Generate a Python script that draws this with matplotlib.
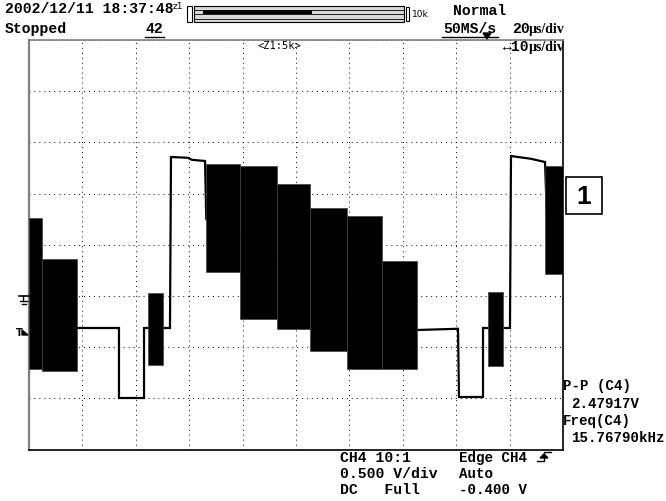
import matplotlib
matplotlib.use('Agg')
import matplotlib.pyplot as plt
from matplotlib.patches import Rectangle, Polygon

# ---- data (screen divisions: x 0..10, y -4..4) ----
trace_x = [0.50, 0.899, 1.685, 1.685, 2.154, 2.154, 2.640, 2.659, 2.97, 3.05, 3.296,
           3.32, 7.27, 8.034, 8.052, 8.502, 8.502, 9.007, 9.026, 9.40, 9.663, 9.70, 10.0]
trace_y = [-1.625, -1.625, -1.625, -2.992, -2.992, -1.625, -1.625, 1.715, 1.70, 1.66, 1.637,
           0.5, -1.664, -1.64, -2.973, -2.973, -1.625, -1.625, 1.734, 1.68, 1.617, 0.5, 0.5]

burst_x0 = [0.000, 0.243, 2.228, 3.315, 3.951, 4.644, 5.262, 5.955, 6.610, 8.596, 9.663]
burst_x1 = [0.243, 0.899, 2.509, 3.951, 4.644, 5.262, 5.955, 6.610, 7.266, 8.876, 10.0]
burst_top = [0.523, -0.277, -0.941, 1.578, 1.539, 1.188, 0.719, 0.563, -0.316, -0.922, 1.539]
burst_bot = [-2.426, -2.465, -2.348, -0.531, -1.449, -1.645, -2.074, -2.426, -2.426, -2.367, -0.570]

header_left = ["2002/12/11 18:37:48", "Stopped"]
record_count = "42"
acq_mode = ["Normal", "50MS/s", "20", "µs/div"]
zoom_div = ["↔10", "µs/div"]
zoom_label = "<Z1:5k>"
ch_info = ["CH4 10:1", "0.500 V/div", "DC   Full"]
trig_info = ["Edge CH4", "Auto", "-0.400 V"]
meas_info = ["P-P (C4)", "2.47917V", "Freq(C4)", "15.76790kHz"]
marker_label = "1"

W, H = 666, 502
fig = plt.figure(figsize=(W / 100, H / 100), dpi=100)
fig.patch.set_facecolor('white')

L, R, T, B = 29, 563, 41, 450.6
ax = fig.add_axes([L / W, 1 - B / H, (R - L) / W, (B - T) / H])
ax.set_xlim(0, 10)
ax.set_ylim(-4, 4)
ax.set_xticks(range(0, 11))
ax.set_yticks(range(-4, 5))
ax.tick_params(length=0, labelbottom=False, labelleft=False)
ax.grid(True, color='black', lw=0.7, linestyle=(0, (1, 4.1)))
ax.set_axisbelow(True)
for s in ['left', 'top']:
    ax.spines[s].set_color('#808080')
ax.spines['left'].set_linewidth(1.6)
ax.spines['top'].set_linewidth(1.2)
for s in ['right', 'bottom']:
    ax.spines[s].set_color('black')
    ax.spines[s].set_linewidth(1.2)

ax.plot(trace_x, trace_y, color='black', lw=1.6, zorder=3, solid_joinstyle='miter')
for x0, x1, t, b in zip(burst_x0, burst_x1, burst_top, burst_bot):
    ax.fill_between([x0, x1], [t, t], [b, b], color='black', lw=0.5, edgecolor='#404040', zorder=4)

# ---- overlay in pixel coordinates ----
ov = fig.add_axes([0, 0, 1, 1], zorder=10)
ov.set_xlim(0, W)
ov.set_ylim(H, 0)
ov.axis('off')
ov.patch.set_alpha(0)

mono = dict(family='Liberation Mono', weight='bold', fontsize=10.6, color='black', va='baseline')
mono_s = dict(family='Liberation Mono', weight='bold', fontsize=10.2, color='black', va='baseline')
serif = dict(family='Liberation Serif', weight='bold', fontsize=10, color='black', va='baseline')
small = dict(family='DejaVu Sans', fontsize=6.5, color='black', va='baseline')

ov.text(5, 13, header_left[0], **mono)
ov.text(5, 33, header_left[1], **mono)
ov.text(145, 33, record_count, **mono)
ov.plot([145, 164], [37.5, 37.5], color='black', lw=1)

ov.text(173, 9, "z1", **small)
ov.add_patch(Rectangle((187, 7), 5, 16, fill=False, ec='black', lw=0.8))
ov.add_patch(Rectangle((194, 7), 210, 16, fc='#d8d8d8', ec='black', lw=0.8))
for yy in (10.5, 15, 19.5):
    ov.plot([194, 404], [yy, yy], color='black', lw=0.6)
ov.add_patch(Rectangle((203, 11), 109, 3.5, fc='black', ec='black', lw=0))
ov.add_patch(Rectangle((406, 8), 3, 14, fill=False, ec='black', lw=0.8))
ov.text(412, 17, "10k", **small)

ov.text(453, 15, acq_mode[0], **mono)
ov.text(443, 33, acq_mode[1], **mono)
ov.plot([442, 498], [37.5, 37.5], color='black', lw=1)
ov.add_patch(Polygon([(483, 34), (491, 34), (487, 40)], closed=True, fc='black', ec='black'))
ov.text(512, 33, acq_mode[2], **mono)
ov.text(529, 33, acq_mode[3], **serif)
ov.text(503, 51, zoom_div[0], **mono)
ov.text(529, 51, zoom_div[1], **serif)
ov.text(258, 49, zoom_label, family='DejaVu Sans Mono', fontsize=7.5, va='baseline')

# left markers (ground and trigger level)
ov.plot([19, 29], [297, 297], color='black', lw=1.2)
ov.plot([23, 23], [297, 302], color='black', lw=1)
ov.plot([20, 27], [302, 302], color='black', lw=1)
ov.plot([21.5, 25.5], [305, 305], color='black', lw=1)
ov.text(16, 336, "T", family='DejaVu Sans', weight='bold', fontsize=7, va='baseline')
ov.add_patch(Polygon([(22, 331), (28, 336), (22, 336)], closed=True, fc='black', ec='black'))

# marker box "1"
ov.add_patch(Rectangle((566, 178), 36, 37, fill=False, ec='black', lw=1.2))
ov.text(584, 197, marker_label, family='Liberation Sans', weight='bold', fontsize=19,
        ha='center', va='center')

# measurements
meas_x = [563, 571, 563, 571]
meas_y = [390, 408, 425, 442]
for i, s in enumerate(meas_info):
    ov.text(meas_x[i], meas_y[i], s, **mono_s)

# bottom info
bot_y = [462, 478, 494]
for i, s in enumerate(ch_info):
    ov.text(340, bot_y[i], s, **mono)
for i, s in enumerate(trig_info):
    ov.text(459, bot_y[i], s, **mono_s)
ov.plot([537, 544, 544, 551], [462, 462, 453, 453], color='black', lw=1)
ov.add_patch(Polygon([(540, 459), (548, 459), (544, 455)], closed=True, fc='black', ec='black'))

fig.savefig('out.png', dpi=100, facecolor='white')
